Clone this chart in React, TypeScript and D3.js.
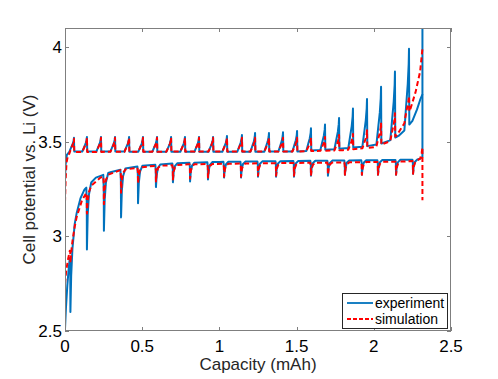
import React from "react";
import * as d3 from "d3";

const width = 498;
const height = 379;
const margin = { left: 65, right: 47, top: 28, bottom: 48 };

// charge: pulse positions (mAh) and peak voltages
const chargePulseCap = [0.058, 0.142, 0.233, 0.324, 0.415, 0.505, 0.596, 0.687, 0.777, 0.868, 0.959, 1.049, 1.146, 1.231, 1.321, 1.412, 1.503, 1.593, 1.684, 1.775, 1.865, 1.956, 2.047, 2.137, 2.228];
const chargePeakExp = [3.52, 3.525, 3.525, 3.525, 3.525, 3.525, 3.525, 3.525, 3.525, 3.525, 3.525, 3.53, 3.535, 3.545, 3.545, 3.55, 3.556, 3.57, 3.59, 3.625, 3.675, 3.725, 3.79, 3.87, 3.99];
const chargePeakSim = [3.515, 3.52, 3.52, 3.52, 3.52, 3.52, 3.52, 3.52, 3.52, 3.52, 3.52, 3.52, 3.52, 3.52, 3.52, 3.52, 3.52, 3.52, 3.525, 3.535, 3.54, 3.56, 3.6, 3.65, 3.74];

// charge baselines
const chargeBaseExpCap = [0, 0.004, 0.012, 0.03, 0.5, 1.0, 1.5, 1.75, 1.95, 2.05, 2.1, 2.16, 2.2, 2.25, 2.28, 2.3, 2.315, 2.315];
const chargeBaseExpV = [3.3, 3.38, 3.43, 3.448, 3.447, 3.446, 3.448, 3.46, 3.475, 3.49, 3.505, 3.53, 3.56, 3.61, 3.67, 3.72, 3.75, 4.2];
const chargeBaseSimCap = [0, 0.004, 0.01, 0.02, 0.04, 0.5, 1.5, 1.8, 2.0, 2.1, 2.15, 2.2, 2.24, 2.27, 2.3, 2.315];
const chargeBaseSimV = [3.18, 3.3, 3.39, 3.43, 3.445, 3.447, 3.448, 3.455, 3.47, 3.5, 3.535, 3.6, 3.68, 3.76, 3.87, 3.99];

// discharge: dip positions and minimum voltages
const dischargeDipCap = [0.035, 0.142, 0.252, 0.363, 0.473, 0.589, 0.699, 0.81, 0.926, 1.03, 1.14, 1.25, 1.367, 1.483, 1.593, 1.703, 1.813, 1.923, 2.027, 2.144, 2.254];
const dischargeDipExp = [2.6, 2.93, 3.03, 3.1, 3.175, 3.26, 3.285, 3.29, 3.3, 3.31, 3.31, 3.315, 3.315, 3.315, 3.32, 3.32, 3.325, 3.325, 3.325, 3.325, 3.33];
const dischargeDipSim = [2.86, 3.12, 3.17, 3.23, 3.28, 3.29, 3.3, 3.305, 3.31, 3.315, 3.315, 3.32, 3.32, 3.32, 3.32, 3.325, 3.325, 3.325, 3.325, 3.325, 3.33];

// discharge baselines
const dischargeBaseExpCap = [0, 0.006, 0.015, 0.025, 0.04, 0.055, 0.075, 0.1, 0.125, 0.13, 0.2, 0.3, 0.4, 0.5, 0.7, 1.0, 1.5, 2.0, 2.28, 2.3, 2.315, 2.315];
const dischargeBaseExpV = [2.51, 2.62, 2.74, 2.84, 2.95, 3.03, 3.12, 3.2, 3.245, 3.25, 3.31, 3.34, 3.36, 3.372, 3.385, 3.393, 3.398, 3.402, 3.405, 3.41, 3.42, 3.75];
const dischargeBaseSimCap = [0, 0.008, 0.02, 0.035, 0.05, 0.075, 0.11, 0.16, 0.23, 0.36, 0.55, 0.8, 1.2, 1.8, 2.2, 2.28, 2.3, 2.31, 2.315, 2.315];
const dischargeBaseSimV = [2.75, 2.82, 2.88, 2.94, 3.0, 3.1, 3.19, 3.26, 3.31, 3.35, 3.37, 3.38, 3.385, 3.39, 3.395, 3.4, 3.41, 3.44, 3.47, 3.19];

const xTicks = [0, 0.5, 1, 1.5, 2, 2.5];
const yTicks = [2.5, 3, 3.5, 4];

// pulse shapes: charge ramps up then drops at rest, discharge drops then recovers
const chargeShape = { offsets: [-0.03, -0.018, -0.008, -0.002, 0, 0.002], frac: [0, 0.3, 0.55, 0.8, 1, 0] };
const dischargeShape = { offsets: [-0.004, -0.001, 0, 0.005, 0.013, 0.028], frac: [0, 0.25, 1, 0.45, 0.15, 0] };

function buildCurve(baseCap: number[], baseV: number[], pulseCap: number[], peakV: number[], shape: { offsets: number[]; frac: number[] }) {
  const n = baseCap.findIndex((c, i) => i > 0 && c <= baseCap[i - 1]);
  const end = n === -1 ? baseCap.length : n;
  const base = d3.scaleLinear().domain(baseCap.slice(0, end)).range(baseV.slice(0, end));
  const lo = shape.offsets[0];
  const hi = shape.offsets[shape.offsets.length - 1];
  const pts: [number, number][] = [];
  baseCap.forEach((c, i) => {
    const inside = pulseCap.some(p => c >= p + lo && c <= p + hi);
    if (!inside) pts.push([c, baseV[i]]);
  });
  pulseCap.forEach((p, k) => {
    shape.offsets.forEach((o, j) => {
      const b = base(Math.max(0, p + o));
      pts.push([Math.max(0, p + o), b + (peakV[k] - b) * shape.frac[j]]);
    });
  });
  return pts
    .map((p, i) => ({ p, i }))
    .sort((a, b) => a.p[0] - b.p[0] || a.i - b.i)
    .map(d => d.p);
}

export default function App() {
  const x = d3.scaleLinear().domain([0, 2.5]).range([margin.left, width - margin.right]);
  const y = d3.scaleLinear().domain([2.5, 4.1]).range([height - margin.bottom, margin.top]);
  const line = d3.line<[number, number]>().x(d => x(d[0])).y(d => y(d[1]));

  const chargeExp = buildCurve(chargeBaseExpCap, chargeBaseExpV, chargePulseCap, chargePeakExp, chargeShape);
  const chargeSim = buildCurve(chargeBaseSimCap, chargeBaseSimV, chargePulseCap, chargePeakSim, chargeShape);
  const dischargeExp = buildCurve(dischargeBaseExpCap, dischargeBaseExpV, dischargeDipCap, dischargeDipExp, dischargeShape);
  const dischargeSim = buildCurve(dischargeBaseSimCap, dischargeBaseSimV, dischargeDipCap, dischargeDipSim, dischargeShape);

  const x0 = margin.left;
  const x1 = width - margin.right;
  const y0 = height - margin.bottom;
  const y1 = margin.top;
  const axisColor = "#7f7f7f";
  const font = "'Liberation Sans', Arial, Helvetica, sans-serif";
  const blue = "#0072bd";
  const red = "#ff0000";

  return (
    <svg width={width} height={height} style={{ position: "absolute", left: 0, top: 0, background: "#fff" }} fontFamily={font}>
      <defs>
        <clipPath id="plot">
          <rect x={x0} y={y1} width={x1 - x0} height={y0 - y1} />
        </clipPath>
      </defs>
      <rect x={x0} y={y1} width={x1 - x0} height={y0 - y1} fill="#fff" />
      <g clipPath="url(#plot)" fill="none" strokeLinejoin="round">
        <path d={line(chargeExp) || ""} stroke={blue} strokeWidth={2} />
        <path d={line(dischargeExp) || ""} stroke={blue} strokeWidth={2} />
        <path d={line(chargeSim) || ""} stroke={red} strokeWidth={2} strokeDasharray="5,3" />
        <path d={line(dischargeSim) || ""} stroke={red} strokeWidth={2} strokeDasharray="5,3" />
      </g>
      <rect x={x0 + 0.5} y={y1 + 0.5} width={x1 - x0 - 1} height={y0 - y1 - 1} fill="none" stroke={axisColor} strokeWidth={1} />
      {xTicks.map(t => (
        <g key={"x" + t}>
          <line x1={Math.round(x(t)) + 0.5} x2={Math.round(x(t)) + 0.5} y1={y0} y2={y0 - 4} stroke={axisColor} />
          <line x1={Math.round(x(t)) + 0.5} x2={Math.round(x(t)) + 0.5} y1={y1} y2={y1 + 4} stroke={axisColor} />
          <text x={x(t)} y={y0 + 21} textAnchor="middle" fontSize={17} fill="#000">{t}</text>
        </g>
      ))}
      {yTicks.map(t => (
        <g key={"y" + t}>
          <line x1={x0} x2={x0 + 4} y1={Math.round(y(t)) + 0.5} y2={Math.round(y(t)) + 0.5} stroke={axisColor} />
          <line x1={x1} x2={x1 - 4} y1={Math.round(y(t)) + 0.5} y2={Math.round(y(t)) + 0.5} stroke={axisColor} />
          <text x={x0 - 3} y={y(t) + 6} textAnchor="end" fontSize={17} fill="#000">{t}</text>
        </g>
      ))}
      <text x={(x0 + x1) / 2} y={370} textAnchor="middle" fontSize={17} fill="#262626">Capacity (mAh)</text>
      <text transform={`translate(35,${(y0 + y1) / 2}) rotate(-90)`} textAnchor="middle" fontSize={17} fill="#262626">Cell potential vs. Li (V)</text>
      <g>
        <rect x={342.5} y={293.5} width={105} height={35} fill="#fff" stroke="#262626" strokeWidth={1} />
        <line x1={347} x2={373} y1={303} y2={303} stroke={blue} strokeWidth={1.8} />
        <line x1={347} x2={373} y1={319} y2={319} stroke={red} strokeWidth={1.8} strokeDasharray="4,2" />
        <text x={375} y={308} fontSize={14} fill="#000">experiment</text>
        <text x={375} y={324} fontSize={14} fill="#000">simulation</text>
      </g>
    </svg>
  );
}
